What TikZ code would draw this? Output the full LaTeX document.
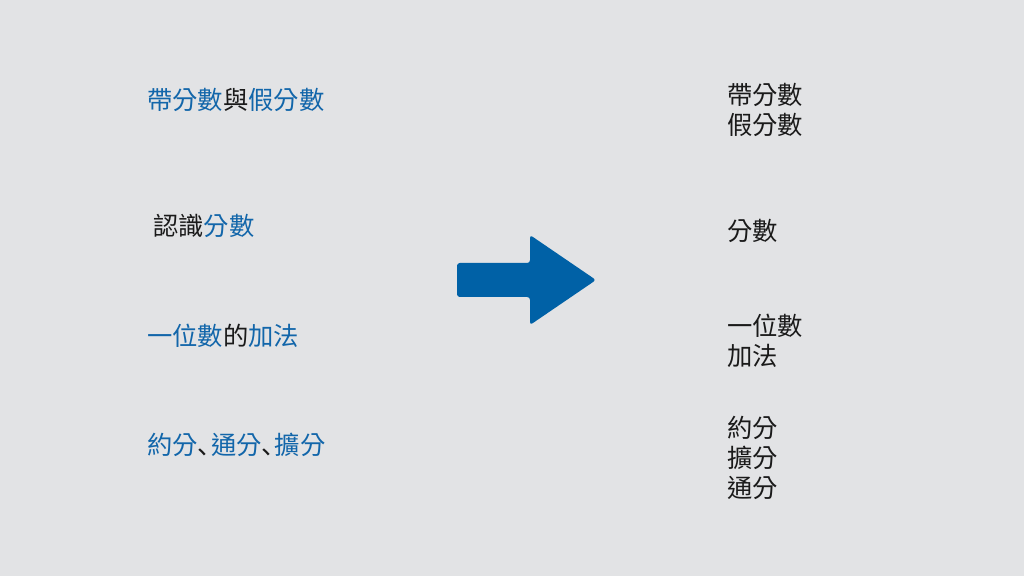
\documentclass[tikz,border=0pt]{standalone}
\usepackage{fontspec}
\newfontfamily\cjk{Noto Sans CJK TC}
\newfontfamily\cjksc{Noto Sans CJK SC}
\usetikzlibrary{positioning}
\definecolor{SlideGrey}{HTML}{E2E3E5}
\definecolor{TopicBlue}{HTML}{1266AA}
\definecolor{ArrowBlue}{HTML}{0061A6}
\definecolor{Ink}{HTML}{1A1A1A}
\newcommand{\hl}[1]{\textcolor{TopicBlue}{#1}}
\newcommand{\dun}{\makebox[0.52em][l]{\cjksc 、}}

\begin{document}
\begin{tikzpicture}[
    x=0.025cm, y=-0.025cm,
    topic/.style={
      anchor=west,
      inner sep=0pt,
      align=left,
      text=Ink,
      font=\cjk\fontsize{18}{21.3}\selectfont
    }
  ]
  \fill[SlideGrey] (0,0) rectangle (1024,576);

  % old topics
  \node[topic] (oldA) at (147,100) {\hl{帶分數}與\hl{假分數}};
  \node[topic] (oldB) at (153,226) {認識\hl{分數}};
  \node[topic] (oldC) at (147,336) {\hl{一位數}的\hl{加法}};
  \node[topic] (oldD) at (147,445) {\hl{約分}\dun\hl{通分}\dun\hl{擴分}};

  % new topics
  \node[topic] (newA) at (727,110) {帶分數\\假分數};
  \node[topic] (newB) at (727,231) {分數};
  \node[topic] (newC) at (727,341) {一位數\\加法};
  \node[topic] (newD) at (727,458) {約分\\擴分\\通分};

  % block arrow
  \fill[ArrowBlue, rounded corners=2pt]
    (457,263) -- (530,263) -- (530,235) -- (596,280)
    -- (530,325) -- (530,297) -- (457,297) -- cycle;
\end{tikzpicture}
\end{document}
